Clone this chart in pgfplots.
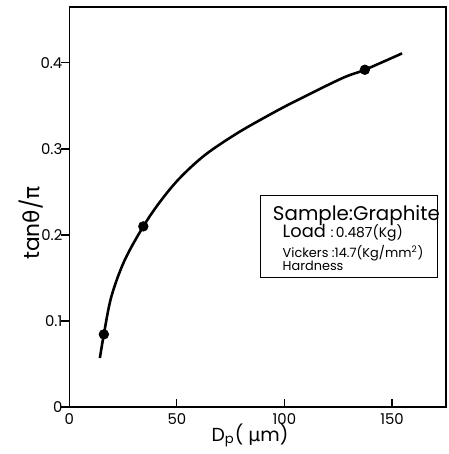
\documentclass[border=0pt]{standalone}
\usepackage{fontspec}
\setmainfont{Poppins}
\newfontfamily\grk{DejaVu Sans}
\usepackage{pgfplots}
\pgfplotsset{compat=1.18}
\usetikzlibrary{calc}

\begin{document}
\begin{tikzpicture}
  \begin{axis}[
    scale only axis,
    width=190pt, height=202pt,
    xmin=0, xmax=175,
    ymin=0, ymax=0.465,
    xtick={0,50,100,150},
    ytick={0,0.1,0.2,0.3,0.4},
    yticklabels={0,0.1,0.2,0.3,0.4},
    tick pos=left,
    tick align=inside,
    major tick length=4pt,
    ytick style={xshift=-4pt},
    axis line style={line width=0.8pt},
    every tick/.style={line width=0.6pt, black},
    tick label style={font=\fontsize{7.5}{8}\selectfont},
    /pgf/number format/assume math mode=true,
    xlabel={D\textsubscript{p}( {\grk μ}m)},
    ylabel={tan{\grk θ}/{\grk π}},
    xlabel style={font=\fontsize{9.5}{10}\selectfont, at={(axis description cs:0.48,-0.072)}, anchor=center},
    ylabel style={font=\fontsize{11}{12}\selectfont, at={(axis description cs:-0.102,0.46)}, anchor=center},
    clip=false,
  ]
  % hand-read curve
  \addplot[black, line width=1.3pt, smooth, tension=0.55] coordinates {
    (14.2,0.057) (16.05,0.0845) (19.5,0.128) (25.6,0.170) (34.4,0.210)
    (42.3,0.239) (51.3,0.266) (63.1,0.293) (77.9,0.318) (92.6,0.339)
    (104.7,0.355) (126.7,0.382) (137.4,0.392) (154.7,0.411)
  };
  \addplot[only marks, mark=*, mark size=2.4pt, black] coordinates {
    (16.05,0.0845) (34.4,0.210) (137.4,0.392)
  };
  \draw[line width=0.6pt] (axis cs:89,0.1506) rectangle (axis cs:171,0.246);
  \node[anchor=base west, font=\fontsize{10}{11}\selectfont, inner sep=0pt] at (axis cs:94.5,0.217) {Sample{:}Graphite};
  \node[anchor=base west, inner sep=0pt] at (axis cs:99,0.1966)
    {\fontsize{9}{10}\selectfont Load\ \fontsize{7}{8}\selectfont{:}\,0.487(Kg)};
  \node[anchor=base west, font=\fontsize{6.5}{7}\selectfont, inner sep=0pt] at (axis cs:99,0.174) {Vickers\ {:}14.7(Kg/mm\textsuperscript{2})};
  \node[anchor=base west, font=\fontsize{6.5}{7}\selectfont, inner sep=0pt] at (axis cs:99,0.159) {Hardness};
  \end{axis}
  \path ($(current axis.south west)+(-35pt,-21.5pt)$) rectangle ($(current axis.north east)+(1.5pt,3.5pt)$);
\end{tikzpicture}
\end{document}
